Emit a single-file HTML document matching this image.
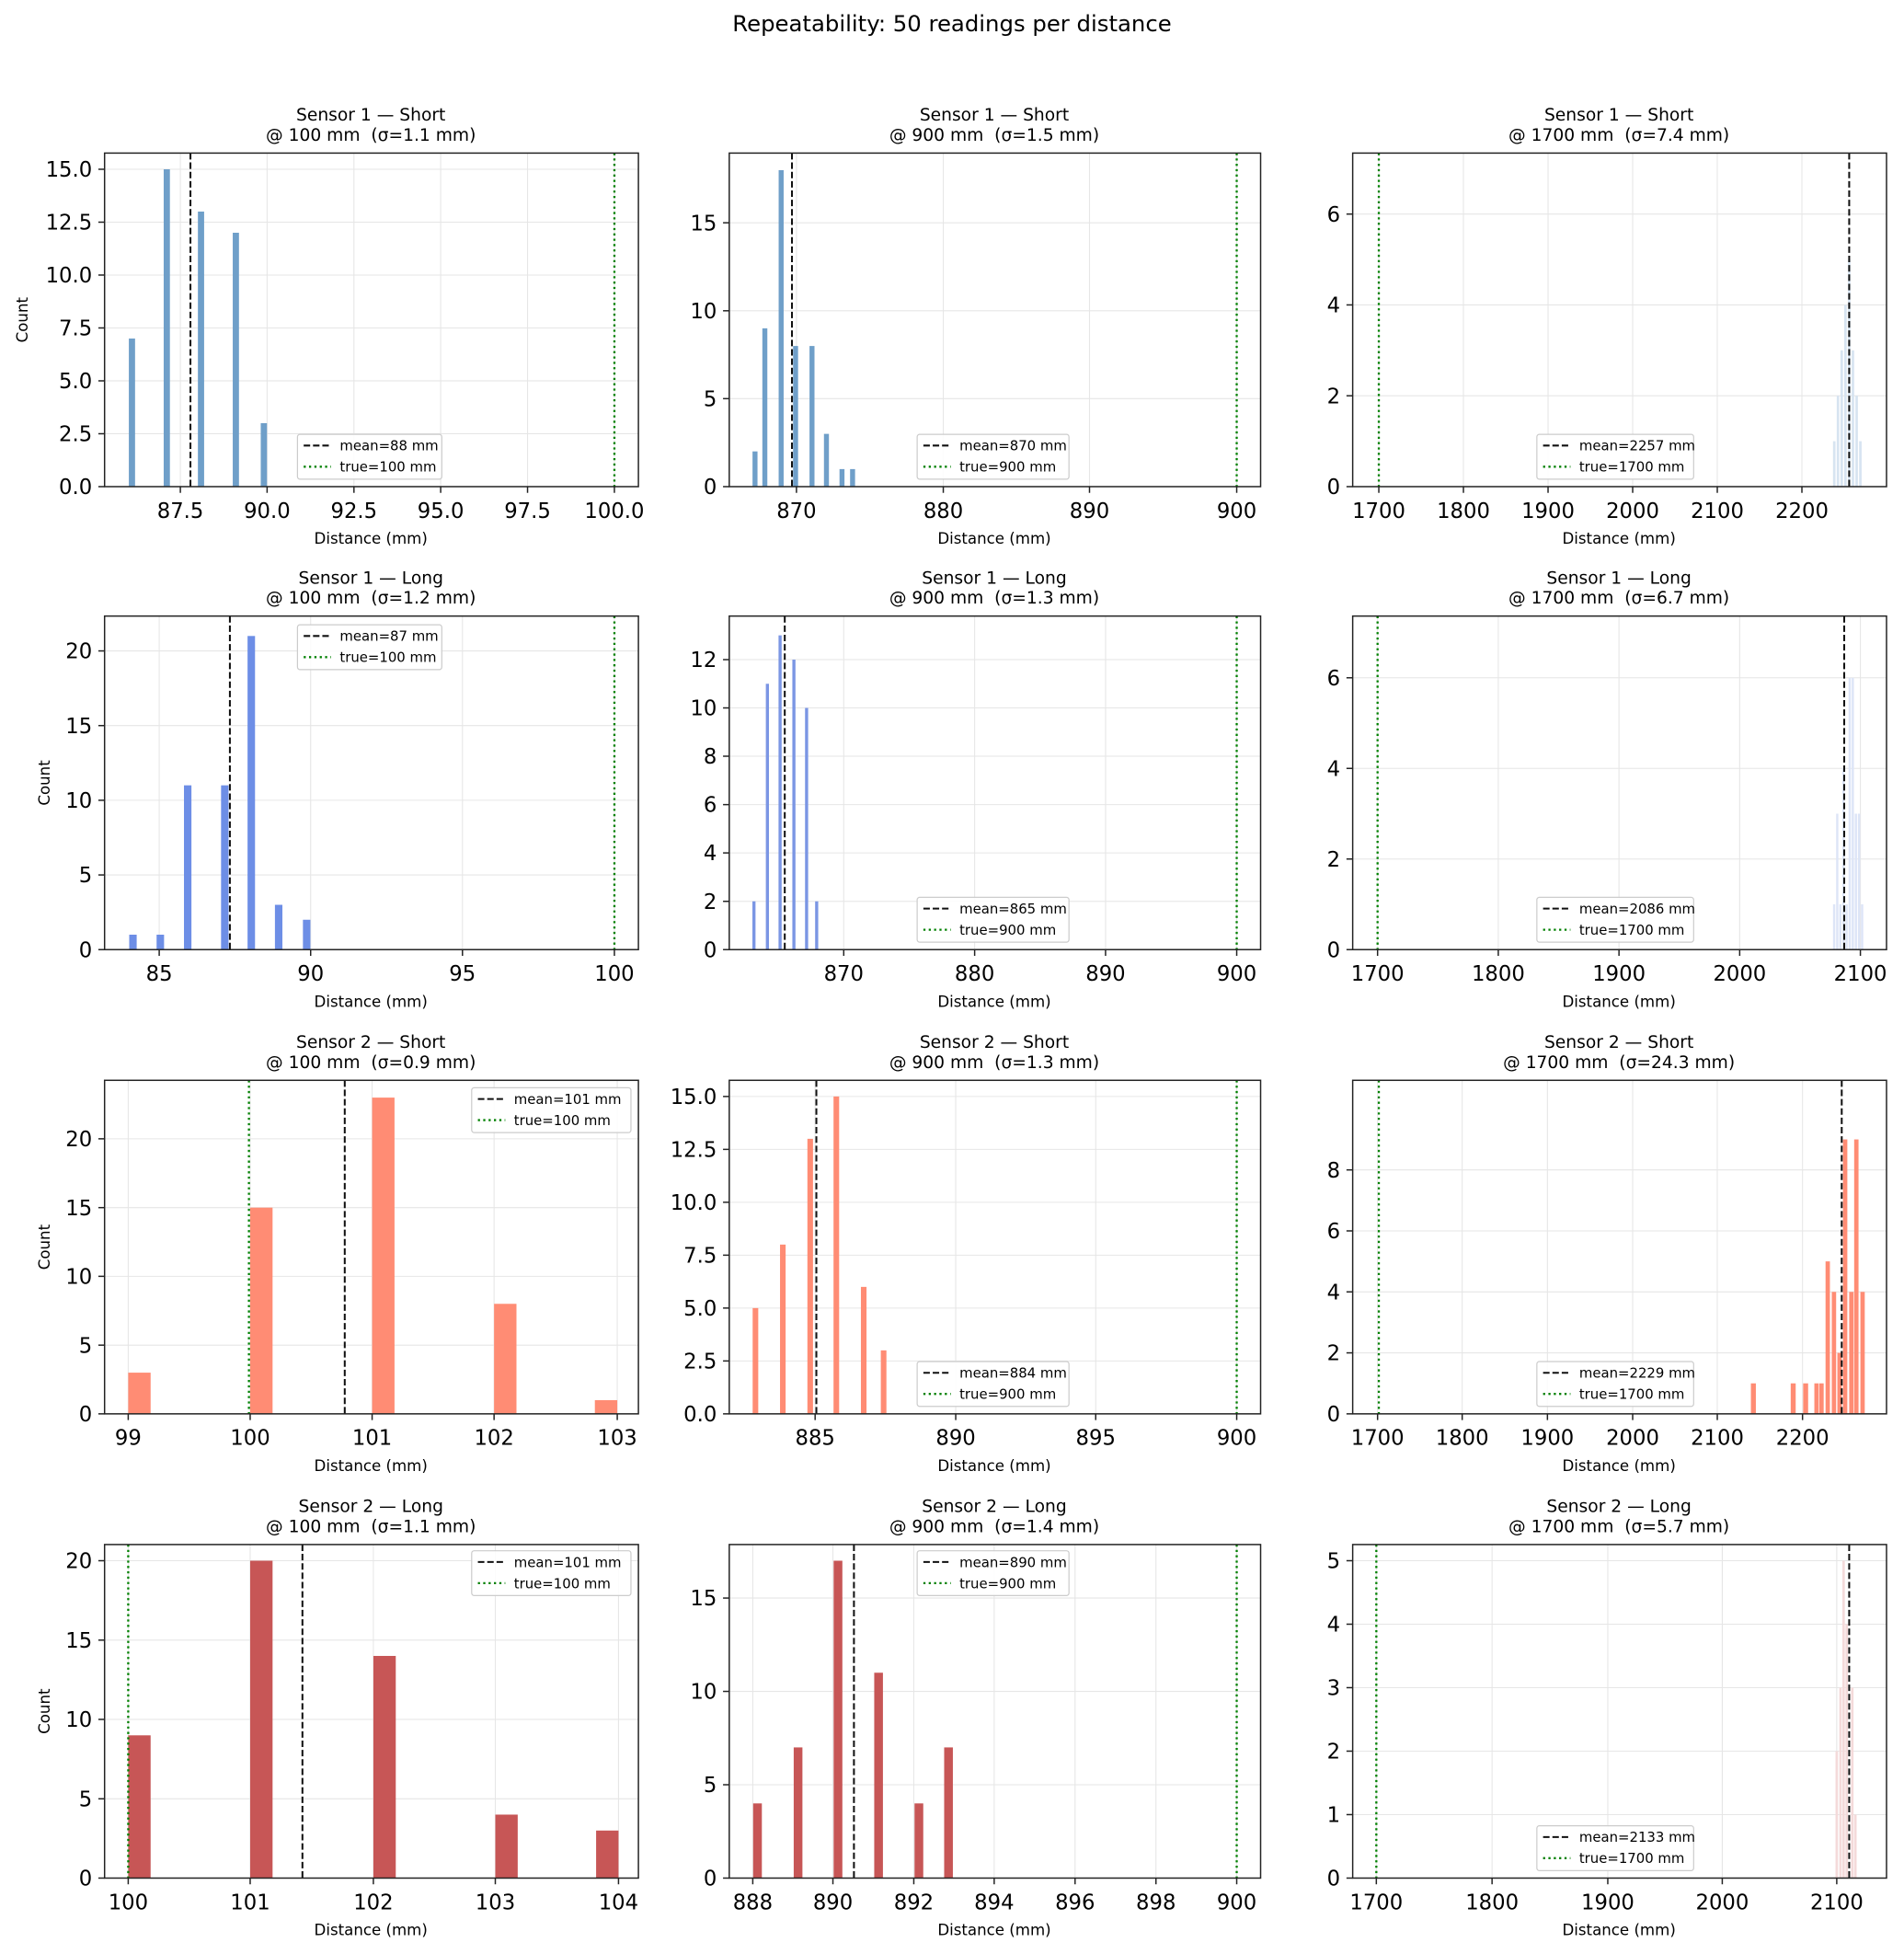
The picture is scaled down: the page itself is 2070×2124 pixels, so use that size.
<!DOCTYPE html>
<html><head><meta charset="utf-8"><style>html,body{margin:0;padding:0;background:#fff}svg{display:block}</style></head>
<body>
<svg xmlns="http://www.w3.org/2000/svg" width="2070" height="2124" viewBox="0 0 1530 1570" font-family="'DejaVu Sans','Liberation Sans',sans-serif">
<rect width="1530" height="1570" fill="#fff"/>
<style>
text{white-space:pre}
.g{stroke:#e6e6e6;stroke-width:0.8}
.ax{fill:none;stroke:#222;stroke-width:1.1}
.tk{stroke:#222;stroke-width:1.1}
.tl{font-size:16.8px}
.t{font-size:13.8px;text-anchor:middle}
.xl{font-size:12.3px;text-anchor:middle}
.lg{font-size:11px}
.mean{stroke:#111;stroke-width:1.5;stroke-dasharray:5.2,2.3}
.true{stroke:#008000;stroke-width:1.7;stroke-dasharray:1.7,2.6}
.lb{fill:#fff;fill-opacity:0.85;stroke:#ccc;stroke-width:0.9}
</style>
<text x="765" y="25" font-size="18" text-anchor="middle">Repeatability: 50 readings per distance</text>

<!-- P1 -->
<g>
<text class="t" x="298" y="97">Sensor 1 — Short</text><text class="t" x="298" y="113">@ 100 mm  (σ=1.1 mm)</text>
<g class="g"><line x1="144.9" y1="123" x2="144.9" y2="391"/><line x1="214.6" y1="123" x2="214.6" y2="391"/><line x1="284.4" y1="123" x2="284.4" y2="391"/><line x1="354.1" y1="123" x2="354.1" y2="391"/><line x1="423.9" y1="123" x2="423.9" y2="391"/><line x1="493.7" y1="123" x2="493.7" y2="391"/>
<line x1="84" y1="348.5" x2="513" y2="348.5"/><line x1="84" y1="306" x2="513" y2="306"/><line x1="84" y1="263.5" x2="513" y2="263.5"/><line x1="84" y1="221" x2="513" y2="221"/><line x1="84" y1="178.5" x2="513" y2="178.5"/><line x1="84" y1="136" x2="513" y2="136"/></g>
<g fill="#6f9fc9"><rect x="103.5" y="272" width="5" height="119"/><rect x="131.5" y="136" width="5" height="255"/><rect x="159" y="170" width="5" height="221"/><rect x="187" y="187" width="5" height="204"/><rect x="209.5" y="340" width="5" height="51"/></g>
<line class="mean" x1="153" y1="123" x2="153" y2="391"/><line class="true" x1="493.7" y1="123" x2="493.7" y2="391"/>
<rect class="ax" x="84" y="123" width="429" height="268"/>
<g class="tk"><line x1="144.9" y1="391" x2="144.9" y2="396"/><line x1="214.6" y1="391" x2="214.6" y2="396"/><line x1="284.4" y1="391" x2="284.4" y2="396"/><line x1="354.1" y1="391" x2="354.1" y2="396"/><line x1="423.9" y1="391" x2="423.9" y2="396"/><line x1="493.7" y1="391" x2="493.7" y2="396"/>
<line x1="79" y1="391" x2="84" y2="391"/><line x1="79" y1="348.5" x2="84" y2="348.5"/><line x1="79" y1="306" x2="84" y2="306"/><line x1="79" y1="263.5" x2="84" y2="263.5"/><line x1="79" y1="221" x2="84" y2="221"/><line x1="79" y1="178.5" x2="84" y2="178.5"/><line x1="79" y1="136" x2="84" y2="136"/></g>
<g class="tl" text-anchor="middle"><text x="144.9" y="416">87.5</text><text x="214.6" y="416">90.0</text><text x="284.4" y="416">92.5</text><text x="354.1" y="416">95.0</text><text x="423.9" y="416">97.5</text><text x="493.7" y="416">100.0</text></g>
<g class="tl" text-anchor="end"><text x="74" y="397">0.0</text><text x="74" y="354.5">2.5</text><text x="74" y="312">5.0</text><text x="74" y="269.5">7.5</text><text x="74" y="227">10.0</text><text x="74" y="184.5">12.5</text><text x="74" y="142">15.0</text></g>
<text class="xl" x="298" y="437">Distance (mm)</text>
<text class="xl" transform="translate(22,257) rotate(-90)">Count</text>
<rect class="lb" x="239" y="349" width="116" height="36" rx="2"/>
<line class="mean" x1="244" y1="358" x2="266" y2="358"/><text class="lg" x="273" y="362">mean=88 mm</text>
<line class="true" x1="244" y1="375" x2="266" y2="375"/><text class="lg" x="273" y="379">true=100 mm</text>
</g>

<!-- P2 -->
<g>
<text class="t" x="799" y="97">Sensor 1 — Short</text><text class="t" x="799" y="113">@ 900 mm  (σ=1.5 mm)</text>
<g class="g"><line x1="640" y1="123" x2="640" y2="391"/><line x1="758" y1="123" x2="758" y2="391"/><line x1="875.5" y1="123" x2="875.5" y2="391"/><line x1="993.8" y1="123" x2="993.8" y2="391"/>
<line x1="586" y1="320.3" x2="1013" y2="320.3"/><line x1="586" y1="249.7" x2="1013" y2="249.7"/><line x1="586" y1="179" x2="1013" y2="179"/></g>
<g fill="#6f9fc9"><rect x="604.7" y="362.7" width="4" height="28.3"/><rect x="612.6" y="263.8" width="4" height="127.2"/><rect x="625.7" y="136.7" width="4" height="254.3"/><rect x="637.3" y="278" width="4" height="113"/><rect x="650.5" y="278" width="4" height="113"/><rect x="662.1" y="348.6" width="4" height="42.4"/><rect x="674.6" y="376.9" width="4" height="14.1"/><rect x="683.1" y="376.9" width="4" height="14.1"/></g>
<line class="mean" x1="636.4" y1="123" x2="636.4" y2="391"/><line class="true" x1="993.8" y1="123" x2="993.8" y2="391"/>
<rect class="ax" x="586" y="123" width="427" height="268"/>
<g class="tk"><line x1="640" y1="391" x2="640" y2="396"/><line x1="758" y1="391" x2="758" y2="396"/><line x1="875.5" y1="391" x2="875.5" y2="396"/><line x1="993.8" y1="391" x2="993.8" y2="396"/>
<line x1="581" y1="391" x2="586" y2="391"/><line x1="581" y1="320.3" x2="586" y2="320.3"/><line x1="581" y1="249.7" x2="586" y2="249.7"/><line x1="581" y1="179" x2="586" y2="179"/></g>
<g class="tl" text-anchor="middle"><text x="640" y="416">870</text><text x="758" y="416">880</text><text x="875.5" y="416">890</text><text x="993.8" y="416">900</text></g>
<g class="tl" text-anchor="end"><text x="576" y="397">0</text><text x="576" y="326.3">5</text><text x="576" y="255.7">10</text><text x="576" y="185">15</text></g>
<text class="xl" x="799" y="437">Distance (mm)</text>
<rect class="lb" x="737" y="349" width="122" height="36" rx="2"/>
<line class="mean" x1="742" y1="358" x2="764" y2="358"/><text class="lg" x="771" y="362">mean=870 mm</text>
<line class="true" x1="742" y1="375" x2="764" y2="375"/><text class="lg" x="771" y="379">true=900 mm</text>
</g>

<!-- P3 -->
<g>
<text class="t" x="1301" y="97">Sensor 1 — Short</text><text class="t" x="1301" y="113">@ 1700 mm  (σ=7.4 mm)</text>
<g class="g"><line x1="1108" y1="123" x2="1108" y2="391"/><line x1="1176" y1="123" x2="1176" y2="391"/><line x1="1244" y1="123" x2="1244" y2="391"/><line x1="1312" y1="123" x2="1312" y2="391"/><line x1="1380" y1="123" x2="1380" y2="391"/><line x1="1448" y1="123" x2="1448" y2="391"/>
<line x1="1087" y1="318" x2="1516" y2="318"/><line x1="1087" y1="245" x2="1516" y2="245"/><line x1="1087" y1="172" x2="1516" y2="172"/></g>
<g fill="#d7e4f1"><rect x="1473" y="354.5" width="2" height="36.5"/><rect x="1476" y="318" width="2" height="73"/><rect x="1479" y="281.5" width="2" height="109.5"/><rect x="1482" y="245" width="2" height="146"/><rect x="1485" y="208.5" width="2" height="182.5"/><rect x="1488" y="281.5" width="2" height="109.5"/><rect x="1491" y="318" width="2" height="73"/><rect x="1494" y="354.5" width="2" height="36.5"/></g>
<line class="mean" x1="1486" y1="123" x2="1486" y2="391"/><line class="true" x1="1108" y1="123" x2="1108" y2="391"/>
<rect class="ax" x="1087" y="123" width="429" height="268"/>
<g class="tk"><line x1="1108" y1="391" x2="1108" y2="396"/><line x1="1176" y1="391" x2="1176" y2="396"/><line x1="1244" y1="391" x2="1244" y2="396"/><line x1="1312" y1="391" x2="1312" y2="396"/><line x1="1380" y1="391" x2="1380" y2="396"/><line x1="1448" y1="391" x2="1448" y2="396"/>
<line x1="1082" y1="391" x2="1087" y2="391"/><line x1="1082" y1="318" x2="1087" y2="318"/><line x1="1082" y1="245" x2="1087" y2="245"/><line x1="1082" y1="172" x2="1087" y2="172"/></g>
<g class="tl" text-anchor="middle"><text x="1108" y="416">1700</text><text x="1176" y="416">1800</text><text x="1244" y="416">1900</text><text x="1312" y="416">2000</text><text x="1380" y="416">2100</text><text x="1448" y="416">2200</text></g>
<g class="tl" text-anchor="end"><text x="1077" y="397">0</text><text x="1077" y="324">2</text><text x="1077" y="251">4</text><text x="1077" y="178">6</text></g>
<text class="xl" x="1301" y="437">Distance (mm)</text>
<rect class="lb" x="1235" y="349" width="126" height="36" rx="2"/>
<line class="mean" x1="1240" y1="358" x2="1262" y2="358"/><text class="lg" x="1269" y="362">mean=2257 mm</text>
<line class="true" x1="1240" y1="375" x2="1262" y2="375"/><text class="lg" x="1269" y="379">true=1700 mm</text>
</g>

<!-- P4 -->
<g>
<text class="t" x="298" y="469">Sensor 1 — Long</text><text class="t" x="298" y="485">@ 100 mm  (σ=1.2 mm)</text>
<g class="g"><line x1="127.9" y1="495" x2="127.9" y2="763"/><line x1="249.6" y1="495" x2="249.6" y2="763"/><line x1="371.6" y1="495" x2="371.6" y2="763"/><line x1="493.7" y1="495" x2="493.7" y2="763"/>
<line x1="84" y1="703" x2="513" y2="703"/><line x1="84" y1="643" x2="513" y2="643"/><line x1="84" y1="583" x2="513" y2="583"/><line x1="84" y1="523" x2="513" y2="523"/></g>
<g fill="#6d8ee6"><rect x="103.8" y="751" width="6" height="12"/><rect x="125.8" y="751" width="6" height="12"/><rect x="147.8" y="631" width="6" height="132"/><rect x="177.6" y="631" width="6" height="132"/><rect x="198.9" y="511" width="6" height="252"/><rect x="220.9" y="727" width="6" height="36"/><rect x="243.4" y="739" width="6" height="24"/></g>
<line class="mean" x1="184.7" y1="495" x2="184.7" y2="763"/><line class="true" x1="493.7" y1="495" x2="493.7" y2="763"/>
<rect class="ax" x="84" y="495" width="429" height="268"/>
<g class="tk"><line x1="127.9" y1="763" x2="127.9" y2="768"/><line x1="249.6" y1="763" x2="249.6" y2="768"/><line x1="371.6" y1="763" x2="371.6" y2="768"/><line x1="493.7" y1="763" x2="493.7" y2="768"/>
<line x1="79" y1="763" x2="84" y2="763"/><line x1="79" y1="703" x2="84" y2="703"/><line x1="79" y1="643" x2="84" y2="643"/><line x1="79" y1="583" x2="84" y2="583"/><line x1="79" y1="523" x2="84" y2="523"/></g>
<g class="tl" text-anchor="middle"><text x="127.9" y="788">85</text><text x="249.6" y="788">90</text><text x="371.6" y="788">95</text><text x="493.7" y="788">100</text></g>
<g class="tl" text-anchor="end"><text x="74" y="769">0</text><text x="74" y="709">5</text><text x="74" y="649">10</text><text x="74" y="589">15</text><text x="74" y="529">20</text></g>
<text class="xl" x="298" y="809">Distance (mm)</text>
<text class="xl" transform="translate(40,629) rotate(-90)">Count</text>
<rect class="lb" x="239" y="502" width="116" height="36" rx="2"/>
<line class="mean" x1="244" y1="511" x2="266" y2="511"/><text class="lg" x="273" y="515">mean=87 mm</text>
<line class="true" x1="244" y1="528" x2="266" y2="528"/><text class="lg" x="273" y="532">true=100 mm</text>
</g>

<!-- P5 -->
<g>
<text class="t" x="799" y="469">Sensor 1 — Long</text><text class="t" x="799" y="485">@ 900 mm  (σ=1.3 mm)</text>
<g class="g"><line x1="678" y1="495" x2="678" y2="763"/><line x1="783.2" y1="495" x2="783.2" y2="763"/><line x1="888.4" y1="495" x2="888.4" y2="763"/><line x1="993.8" y1="495" x2="993.8" y2="763"/>
<line x1="586" y1="724.2" x2="1013" y2="724.2"/><line x1="586" y1="685.3" x2="1013" y2="685.3"/><line x1="586" y1="646.5" x2="1013" y2="646.5"/><line x1="586" y1="607.6" x2="1013" y2="607.6"/><line x1="586" y1="568.8" x2="1013" y2="568.8"/><line x1="586" y1="530" x2="1013" y2="530"/></g>
<g fill="#7b96e4"><rect x="604.6" y="724.2" width="2.5" height="38.8"/><rect x="615.4" y="549.4" width="2.5" height="213.6"/><rect x="625.6" y="510.5" width="2.5" height="252.5"/><rect x="636.7" y="530" width="2.5" height="233"/><rect x="646.9" y="568.8" width="2.5" height="194.2"/><rect x="655" y="724.2" width="2.5" height="38.8"/></g>
<line class="mean" x1="630.6" y1="495" x2="630.6" y2="763"/><line class="true" x1="993.8" y1="495" x2="993.8" y2="763"/>
<rect class="ax" x="586" y="495" width="427" height="268"/>
<g class="tk"><line x1="678" y1="763" x2="678" y2="768"/><line x1="783.2" y1="763" x2="783.2" y2="768"/><line x1="888.4" y1="763" x2="888.4" y2="768"/><line x1="993.8" y1="763" x2="993.8" y2="768"/>
<line x1="581" y1="763" x2="586" y2="763"/><line x1="581" y1="724.2" x2="586" y2="724.2"/><line x1="581" y1="685.3" x2="586" y2="685.3"/><line x1="581" y1="646.5" x2="586" y2="646.5"/><line x1="581" y1="607.6" x2="586" y2="607.6"/><line x1="581" y1="568.8" x2="586" y2="568.8"/><line x1="581" y1="530" x2="586" y2="530"/></g>
<g class="tl" text-anchor="middle"><text x="678" y="788">870</text><text x="783.2" y="788">880</text><text x="888.4" y="788">890</text><text x="993.8" y="788">900</text></g>
<g class="tl" text-anchor="end"><text x="576" y="769">0</text><text x="576" y="730.2">2</text><text x="576" y="691.3">4</text><text x="576" y="652.5">6</text><text x="576" y="613.6">8</text><text x="576" y="574.8">10</text><text x="576" y="536">12</text></g>
<text class="xl" x="799" y="809">Distance (mm)</text>
<rect class="lb" x="737" y="721" width="122" height="36" rx="2"/>
<line class="mean" x1="742" y1="730" x2="764" y2="730"/><text class="lg" x="771" y="734">mean=865 mm</text>
<line class="true" x1="742" y1="747" x2="764" y2="747"/><text class="lg" x="771" y="751">true=900 mm</text>
</g>

<!-- P6 -->
<g>
<text class="t" x="1301" y="469">Sensor 1 — Long</text><text class="t" x="1301" y="485">@ 1700 mm  (σ=6.7 mm)</text>
<g class="g"><line x1="1107" y1="495" x2="1107" y2="763"/><line x1="1204" y1="495" x2="1204" y2="763"/><line x1="1301" y1="495" x2="1301" y2="763"/><line x1="1398" y1="495" x2="1398" y2="763"/><line x1="1495" y1="495" x2="1495" y2="763"/>
<line x1="1087" y1="690.2" x2="1516" y2="690.2"/><line x1="1087" y1="617.4" x2="1516" y2="617.4"/><line x1="1087" y1="544.6" x2="1516" y2="544.6"/></g>
<g fill="#dde5f7"><rect x="1473" y="726.6" width="1.8" height="36.4"/><rect x="1475.5" y="653.8" width="1.8" height="109.2"/><rect x="1478" y="726.6" width="1.8" height="36.4"/><rect x="1480.5" y="617.4" width="1.8" height="145.6"/><rect x="1483" y="726.6" width="1.8" height="36.4"/><rect x="1485.5" y="544.6" width="1.8" height="218.4"/><rect x="1488" y="544.6" width="1.8" height="218.4"/><rect x="1490.5" y="653.8" width="1.8" height="109.2"/><rect x="1493" y="653.8" width="1.8" height="109.2"/><rect x="1495.5" y="726.6" width="1.8" height="36.4"/></g>
<line class="mean" x1="1482" y1="495" x2="1482" y2="763"/><line class="true" x1="1107" y1="495" x2="1107" y2="763"/>
<rect class="ax" x="1087" y="495" width="429" height="268"/>
<g class="tk"><line x1="1107" y1="763" x2="1107" y2="768"/><line x1="1204" y1="763" x2="1204" y2="768"/><line x1="1301" y1="763" x2="1301" y2="768"/><line x1="1398" y1="763" x2="1398" y2="768"/><line x1="1495" y1="763" x2="1495" y2="768"/>
<line x1="1082" y1="763" x2="1087" y2="763"/><line x1="1082" y1="690.2" x2="1087" y2="690.2"/><line x1="1082" y1="617.4" x2="1087" y2="617.4"/><line x1="1082" y1="544.6" x2="1087" y2="544.6"/></g>
<g class="tl" text-anchor="middle"><text x="1107" y="788">1700</text><text x="1204" y="788">1800</text><text x="1301" y="788">1900</text><text x="1398" y="788">2000</text><text x="1495" y="788">2100</text></g>
<g class="tl" text-anchor="end"><text x="1077" y="769">0</text><text x="1077" y="696.2">2</text><text x="1077" y="623.4">4</text><text x="1077" y="550.6">6</text></g>
<text class="xl" x="1301" y="809">Distance (mm)</text>
<rect class="lb" x="1235" y="721" width="126" height="36" rx="2"/>
<line class="mean" x1="1240" y1="730" x2="1262" y2="730"/><text class="lg" x="1269" y="734">mean=2086 mm</text>
<line class="true" x1="1240" y1="747" x2="1262" y2="747"/><text class="lg" x="1269" y="751">true=1700 mm</text>
</g>

<!-- P7 -->
<g>
<text class="t" x="298" y="842">Sensor 2 — Short</text><text class="t" x="298" y="858">@ 100 mm  (σ=0.9 mm)</text>
<g class="g"><line x1="103" y1="868" x2="103" y2="1136"/><line x1="201" y1="868" x2="201" y2="1136"/><line x1="299" y1="868" x2="299" y2="1136"/><line x1="397" y1="868" x2="397" y2="1136"/><line x1="496" y1="868" x2="496" y2="1136"/>
<line x1="84" y1="1080.8" x2="513" y2="1080.8"/><line x1="84" y1="1025.5" x2="513" y2="1025.5"/><line x1="84" y1="970.3" x2="513" y2="970.3"/><line x1="84" y1="915" x2="513" y2="915"/></g>
<g fill="#ff8c74"><rect x="103" y="1102.9" width="18" height="33.1"/><rect x="201" y="970.3" width="18" height="165.7"/><rect x="299" y="881.9" width="18" height="254.1"/><rect x="397" y="1047.6" width="18" height="88.4"/><rect x="478" y="1125" width="18" height="11"/></g>
<line class="mean" x1="277" y1="868" x2="277" y2="1136"/><line class="true" x1="200" y1="868" x2="200" y2="1136"/>
<rect class="ax" x="84" y="868" width="429" height="268"/>
<g class="tk"><line x1="103" y1="1136" x2="103" y2="1141"/><line x1="201" y1="1136" x2="201" y2="1141"/><line x1="299" y1="1136" x2="299" y2="1141"/><line x1="397" y1="1136" x2="397" y2="1141"/><line x1="496" y1="1136" x2="496" y2="1141"/>
<line x1="79" y1="1136" x2="84" y2="1136"/><line x1="79" y1="1080.8" x2="84" y2="1080.8"/><line x1="79" y1="1025.5" x2="84" y2="1025.5"/><line x1="79" y1="970.3" x2="84" y2="970.3"/><line x1="79" y1="915" x2="84" y2="915"/></g>
<g class="tl" text-anchor="middle"><text x="103" y="1161">99</text><text x="201" y="1161">100</text><text x="299" y="1161">101</text><text x="397" y="1161">102</text><text x="496" y="1161">103</text></g>
<g class="tl" text-anchor="end"><text x="74" y="1142">0</text><text x="74" y="1086.8">5</text><text x="74" y="1031.5">10</text><text x="74" y="976.3">15</text><text x="74" y="921">20</text></g>
<text class="xl" x="298" y="1182">Distance (mm)</text>
<text class="xl" transform="translate(40,1002) rotate(-90)">Count</text>
<rect class="lb" x="379" y="874" width="128" height="36" rx="2"/>
<line class="mean" x1="384" y1="883" x2="406" y2="883"/><text class="lg" x="413" y="887">mean=101 mm</text>
<line class="true" x1="384" y1="900" x2="406" y2="900"/><text class="lg" x="413" y="904">true=100 mm</text>
</g>

<!-- P8 -->
<g>
<text class="t" x="799" y="842">Sensor 2 — Short</text><text class="t" x="799" y="858">@ 900 mm  (σ=1.3 mm)</text>
<g class="g"><line x1="655" y1="868" x2="655" y2="1136"/><line x1="768" y1="868" x2="768" y2="1136"/><line x1="880.5" y1="868" x2="880.5" y2="1136"/><line x1="993.8" y1="868" x2="993.8" y2="1136"/>
<line x1="586" y1="1093.5" x2="1013" y2="1093.5"/><line x1="586" y1="1051" x2="1013" y2="1051"/><line x1="586" y1="1008.5" x2="1013" y2="1008.5"/><line x1="586" y1="966" x2="1013" y2="966"/><line x1="586" y1="923.5" x2="1013" y2="923.5"/><line x1="586" y1="881" x2="1013" y2="881"/></g>
<g fill="#ff8c74"><rect x="604.8" y="1051" width="4.5" height="85"/><rect x="626.8" y="1000" width="4.5" height="136"/><rect x="648.8" y="915" width="4.5" height="221"/><rect x="669.8" y="881" width="4.5" height="255"/><rect x="691.8" y="1034" width="4.5" height="102"/><rect x="707.8" y="1085" width="4.5" height="51"/></g>
<line class="mean" x1="656" y1="868" x2="656" y2="1136"/><line class="true" x1="993.8" y1="868" x2="993.8" y2="1136"/>
<rect class="ax" x="586" y="868" width="427" height="268"/>
<g class="tk"><line x1="655" y1="1136" x2="655" y2="1141"/><line x1="768" y1="1136" x2="768" y2="1141"/><line x1="880.5" y1="1136" x2="880.5" y2="1141"/><line x1="993.8" y1="1136" x2="993.8" y2="1141"/>
<line x1="581" y1="1136" x2="586" y2="1136"/><line x1="581" y1="1093.5" x2="586" y2="1093.5"/><line x1="581" y1="1051" x2="586" y2="1051"/><line x1="581" y1="1008.5" x2="586" y2="1008.5"/><line x1="581" y1="966" x2="586" y2="966"/><line x1="581" y1="923.5" x2="586" y2="923.5"/><line x1="581" y1="881" x2="586" y2="881"/></g>
<g class="tl" text-anchor="middle"><text x="655" y="1161">885</text><text x="768" y="1161">890</text><text x="880.5" y="1161">895</text><text x="993.8" y="1161">900</text></g>
<g class="tl" text-anchor="end"><text x="576" y="1142">0.0</text><text x="576" y="1099.5">2.5</text><text x="576" y="1057">5.0</text><text x="576" y="1014.5">7.5</text><text x="576" y="972">10.0</text><text x="576" y="929.5">12.5</text><text x="576" y="887">15.0</text></g>
<text class="xl" x="799" y="1182">Distance (mm)</text>
<rect class="lb" x="737" y="1094" width="122" height="36" rx="2"/>
<line class="mean" x1="742" y1="1103" x2="764" y2="1103"/><text class="lg" x="771" y="1107">mean=884 mm</text>
<line class="true" x1="742" y1="1120" x2="764" y2="1120"/><text class="lg" x="771" y="1124">true=900 mm</text>
</g>

<!-- P9 -->
<g>
<text class="t" x="1301" y="842">Sensor 2 — Short</text><text class="t" x="1301" y="858">@ 1700 mm  (σ=24.3 mm)</text>
<g class="g"><line x1="1107" y1="868" x2="1107" y2="1136"/><line x1="1175" y1="868" x2="1175" y2="1136"/><line x1="1243.5" y1="868" x2="1243.5" y2="1136"/><line x1="1312" y1="868" x2="1312" y2="1136"/><line x1="1380" y1="868" x2="1380" y2="1136"/><line x1="1448.5" y1="868" x2="1448.5" y2="1136"/>
<line x1="1087" y1="1087" x2="1516" y2="1087"/><line x1="1087" y1="1038" x2="1516" y2="1038"/><line x1="1087" y1="989" x2="1516" y2="989"/><line x1="1087" y1="940" x2="1516" y2="940"/></g>
<g fill="#ff8c74"><rect x="1407" y="1111.5" width="4" height="24.5"/><rect x="1439" y="1111.5" width="4" height="24.5"/><rect x="1449" y="1111.5" width="4" height="24.5"/><rect x="1458" y="1111.5" width="3.5" height="24.5"/><rect x="1462" y="1111.5" width="3.5" height="24.5"/><rect x="1467" y="1013.5" width="3.5" height="122.5"/><rect x="1472" y="1038" width="3.5" height="98"/><rect x="1476.5" y="1087" width="3.5" height="49"/><rect x="1481" y="915.5" width="3.5" height="220.5"/><rect x="1486" y="1038" width="3.5" height="98"/><rect x="1490" y="915.5" width="3.5" height="220.5"/><rect x="1495" y="1038" width="3.5" height="98"/></g>
<line class="mean" x1="1480" y1="868" x2="1480" y2="1136"/><line class="true" x1="1108" y1="868" x2="1108" y2="1136"/>
<rect class="ax" x="1087" y="868" width="429" height="268"/>
<g class="tk"><line x1="1107" y1="1136" x2="1107" y2="1141"/><line x1="1175" y1="1136" x2="1175" y2="1141"/><line x1="1243.5" y1="1136" x2="1243.5" y2="1141"/><line x1="1312" y1="1136" x2="1312" y2="1141"/><line x1="1380" y1="1136" x2="1380" y2="1141"/><line x1="1448.5" y1="1136" x2="1448.5" y2="1141"/>
<line x1="1082" y1="1136" x2="1087" y2="1136"/><line x1="1082" y1="1087" x2="1087" y2="1087"/><line x1="1082" y1="1038" x2="1087" y2="1038"/><line x1="1082" y1="989" x2="1087" y2="989"/><line x1="1082" y1="940" x2="1087" y2="940"/></g>
<g class="tl" text-anchor="middle"><text x="1107" y="1161">1700</text><text x="1175" y="1161">1800</text><text x="1243.5" y="1161">1900</text><text x="1312" y="1161">2000</text><text x="1380" y="1161">2100</text><text x="1448.5" y="1161">2200</text></g>
<g class="tl" text-anchor="end"><text x="1077" y="1142">0</text><text x="1077" y="1093">2</text><text x="1077" y="1044">4</text><text x="1077" y="995">6</text><text x="1077" y="946">8</text></g>
<text class="xl" x="1301" y="1182">Distance (mm)</text>
<rect class="lb" x="1235" y="1094" width="126" height="36" rx="2"/>
<line class="mean" x1="1240" y1="1103" x2="1262" y2="1103"/><text class="lg" x="1269" y="1107">mean=2229 mm</text>
<line class="true" x1="1240" y1="1120" x2="1262" y2="1120"/><text class="lg" x="1269" y="1124">true=1700 mm</text>
</g>

<!-- P10 -->
<g>
<text class="t" x="298" y="1215">Sensor 2 — Long</text><text class="t" x="298" y="1231">@ 100 mm  (σ=1.1 mm)</text>
<g class="g"><line x1="103" y1="1241" x2="103" y2="1509"/><line x1="201" y1="1241" x2="201" y2="1509"/><line x1="300" y1="1241" x2="300" y2="1509"/><line x1="398" y1="1241" x2="398" y2="1509"/><line x1="497" y1="1241" x2="497" y2="1509"/>
<line x1="84" y1="1445.3" x2="513" y2="1445.3"/><line x1="84" y1="1381.5" x2="513" y2="1381.5"/><line x1="84" y1="1317.8" x2="513" y2="1317.8"/><line x1="84" y1="1254" x2="513" y2="1254"/></g>
<g fill="#c75656"><rect x="103" y="1394.3" width="18" height="114.7"/><rect x="201" y="1254" width="18" height="255"/><rect x="300" y="1330.5" width="18" height="178.5"/><rect x="398" y="1458" width="18" height="51"/><rect x="479" y="1470.8" width="18" height="38.2"/></g>
<line class="mean" x1="243" y1="1241" x2="243" y2="1509"/><line class="true" x1="103" y1="1241" x2="103" y2="1509"/>
<rect class="ax" x="84" y="1241" width="429" height="268"/>
<g class="tk"><line x1="103" y1="1509" x2="103" y2="1514"/><line x1="201" y1="1509" x2="201" y2="1514"/><line x1="300" y1="1509" x2="300" y2="1514"/><line x1="398" y1="1509" x2="398" y2="1514"/><line x1="497" y1="1509" x2="497" y2="1514"/>
<line x1="79" y1="1509" x2="84" y2="1509"/><line x1="79" y1="1445.3" x2="84" y2="1445.3"/><line x1="79" y1="1381.5" x2="84" y2="1381.5"/><line x1="79" y1="1317.8" x2="84" y2="1317.8"/><line x1="79" y1="1254" x2="84" y2="1254"/></g>
<g class="tl" text-anchor="middle"><text x="103" y="1534">100</text><text x="201" y="1534">101</text><text x="300" y="1534">102</text><text x="398" y="1534">103</text><text x="497" y="1534">104</text></g>
<g class="tl" text-anchor="end"><text x="74" y="1515">0</text><text x="74" y="1451.3">5</text><text x="74" y="1387.5">10</text><text x="74" y="1323.8">15</text><text x="74" y="1260">20</text></g>
<text class="xl" x="298" y="1555">Distance (mm)</text>
<text class="xl" transform="translate(40,1375) rotate(-90)">Count</text>
<rect class="lb" x="379" y="1246" width="128" height="36" rx="2"/>
<line class="mean" x1="384" y1="1255" x2="406" y2="1255"/><text class="lg" x="413" y="1259">mean=101 mm</text>
<line class="true" x1="384" y1="1272" x2="406" y2="1272"/><text class="lg" x="413" y="1276">true=100 mm</text>
</g>

<!-- P11 -->
<g>
<text class="t" x="799" y="1215">Sensor 2 — Long</text><text class="t" x="799" y="1231">@ 900 mm  (σ=1.4 mm)</text>
<g class="g"><line x1="604.9" y1="1241" x2="604.9" y2="1509"/><line x1="669.3" y1="1241" x2="669.3" y2="1509"/><line x1="734.3" y1="1241" x2="734.3" y2="1509"/><line x1="798.9" y1="1241" x2="798.9" y2="1509"/><line x1="863.9" y1="1241" x2="863.9" y2="1509"/><line x1="928.9" y1="1241" x2="928.9" y2="1509"/><line x1="993.8" y1="1241" x2="993.8" y2="1509"/>
<line x1="586" y1="1434" x2="1013" y2="1434"/><line x1="586" y1="1359" x2="1013" y2="1359"/><line x1="586" y1="1284" x2="1013" y2="1284"/></g>
<g fill="#c75656"><rect x="605.2" y="1449" width="7" height="60"/><rect x="637.8" y="1404" width="7" height="105"/><rect x="669.9" y="1254" width="7" height="255"/><rect x="702.5" y="1344" width="7" height="165"/><rect x="734.9" y="1449" width="7" height="60"/><rect x="758.7" y="1404" width="7" height="105"/></g>
<line class="mean" x1="686.2" y1="1241" x2="686.2" y2="1509"/><line class="true" x1="993.8" y1="1241" x2="993.8" y2="1509"/>
<rect class="ax" x="586" y="1241" width="427" height="268"/>
<g class="tk"><line x1="604.9" y1="1509" x2="604.9" y2="1514"/><line x1="669.3" y1="1509" x2="669.3" y2="1514"/><line x1="734.3" y1="1509" x2="734.3" y2="1514"/><line x1="798.9" y1="1509" x2="798.9" y2="1514"/><line x1="863.9" y1="1509" x2="863.9" y2="1514"/><line x1="928.9" y1="1509" x2="928.9" y2="1514"/><line x1="993.8" y1="1509" x2="993.8" y2="1514"/>
<line x1="581" y1="1509" x2="586" y2="1509"/><line x1="581" y1="1434" x2="586" y2="1434"/><line x1="581" y1="1359" x2="586" y2="1359"/><line x1="581" y1="1284" x2="586" y2="1284"/></g>
<g class="tl" text-anchor="middle"><text x="604.9" y="1534">888</text><text x="669.3" y="1534">890</text><text x="734.3" y="1534">892</text><text x="798.9" y="1534">894</text><text x="863.9" y="1534">896</text><text x="928.9" y="1534">898</text><text x="993.8" y="1534">900</text></g>
<g class="tl" text-anchor="end"><text x="576" y="1515">0</text><text x="576" y="1440">5</text><text x="576" y="1365">10</text><text x="576" y="1290">15</text></g>
<text class="xl" x="799" y="1555">Distance (mm)</text>
<rect class="lb" x="737" y="1246" width="122" height="36" rx="2"/>
<line class="mean" x1="742" y1="1255" x2="764" y2="1255"/><text class="lg" x="771" y="1259">mean=890 mm</text>
<line class="true" x1="742" y1="1272" x2="764" y2="1272"/><text class="lg" x="771" y="1276">true=900 mm</text>
</g>

<!-- P12 -->
<g>
<text class="t" x="1301" y="1215">Sensor 2 — Long</text><text class="t" x="1301" y="1231">@ 1700 mm  (σ=5.7 mm)</text>
<g class="g"><line x1="1106" y1="1241" x2="1106" y2="1509"/><line x1="1199" y1="1241" x2="1199" y2="1509"/><line x1="1292" y1="1241" x2="1292" y2="1509"/><line x1="1384" y1="1241" x2="1384" y2="1509"/><line x1="1476" y1="1241" x2="1476" y2="1509"/>
<line x1="1087" y1="1458" x2="1516" y2="1458"/><line x1="1087" y1="1407" x2="1516" y2="1407"/><line x1="1087" y1="1356" x2="1516" y2="1356"/><line x1="1087" y1="1305" x2="1516" y2="1305"/><line x1="1087" y1="1254" x2="1516" y2="1254"/></g>
<g fill="#f4dada"><rect x="1475" y="1407" width="2" height="102"/><rect x="1478" y="1356" width="2" height="153"/><rect x="1480.5" y="1254" width="2" height="255"/><rect x="1483" y="1305" width="2" height="204"/><rect x="1487.5" y="1356" width="2" height="153"/><rect x="1490" y="1458" width="2" height="51"/></g>
<line class="mean" x1="1486" y1="1241" x2="1486" y2="1509"/><line class="true" x1="1106" y1="1241" x2="1106" y2="1509"/>
<rect class="ax" x="1087" y="1241" width="429" height="268"/>
<g class="tk"><line x1="1106" y1="1509" x2="1106" y2="1514"/><line x1="1199" y1="1509" x2="1199" y2="1514"/><line x1="1292" y1="1509" x2="1292" y2="1514"/><line x1="1384" y1="1509" x2="1384" y2="1514"/><line x1="1476" y1="1509" x2="1476" y2="1514"/>
<line x1="1082" y1="1509" x2="1087" y2="1509"/><line x1="1082" y1="1458" x2="1087" y2="1458"/><line x1="1082" y1="1407" x2="1087" y2="1407"/><line x1="1082" y1="1356" x2="1087" y2="1356"/><line x1="1082" y1="1305" x2="1087" y2="1305"/><line x1="1082" y1="1254" x2="1087" y2="1254"/></g>
<g class="tl" text-anchor="middle"><text x="1106" y="1534">1700</text><text x="1199" y="1534">1800</text><text x="1292" y="1534">1900</text><text x="1384" y="1534">2000</text><text x="1476" y="1534">2100</text></g>
<g class="tl" text-anchor="end"><text x="1077" y="1515">0</text><text x="1077" y="1464">1</text><text x="1077" y="1413">2</text><text x="1077" y="1362">3</text><text x="1077" y="1311">4</text><text x="1077" y="1260">5</text></g>
<text class="xl" x="1301" y="1555">Distance (mm)</text>
<rect class="lb" x="1235" y="1467" width="126" height="36" rx="2"/>
<line class="mean" x1="1240" y1="1476" x2="1262" y2="1476"/><text class="lg" x="1269" y="1480">mean=2133 mm</text>
<line class="true" x1="1240" y1="1493" x2="1262" y2="1493"/><text class="lg" x="1269" y="1497">true=1700 mm</text>
</g>
</svg>
</body></html>
